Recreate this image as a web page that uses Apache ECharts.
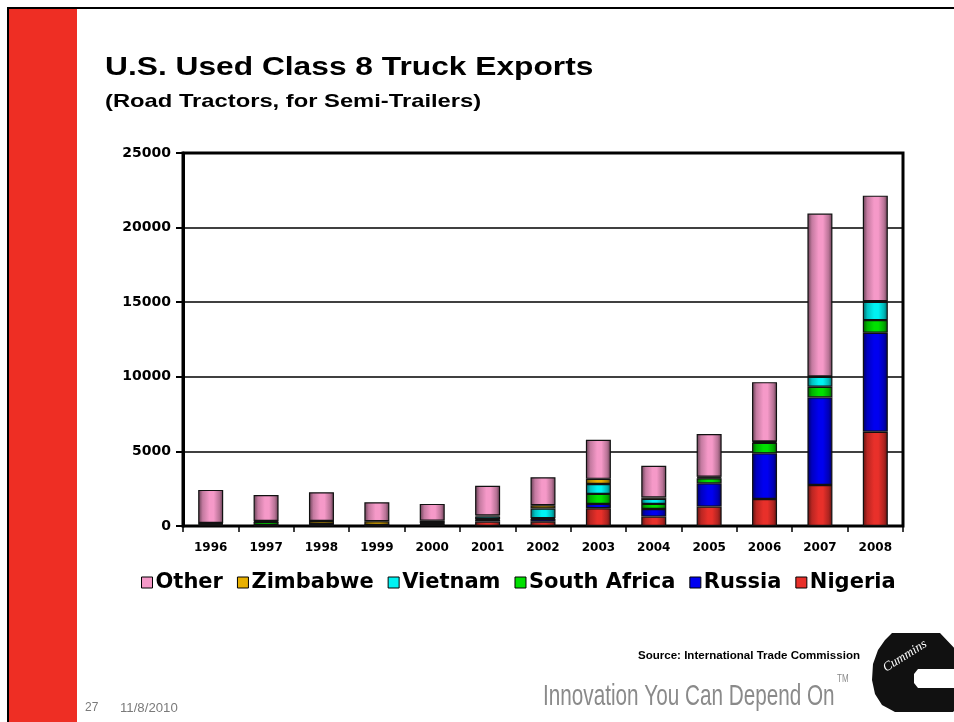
<!DOCTYPE html>
<html>
<head>
<meta charset="utf-8">
<script src="https://cdn.jsdelivr.net/npm/echarts@6/dist/echarts.min.js"></script>
<style>
html,body{margin:0;padding:0;background:#fff;}
#chart{width:954px;height:722px;}
</style>
</head>
<body>
<div id="chart"></div>
<script>
// ---- data ----
var categories = ['1996','1997','1998','1999','2000','2001','2002','2003','2004','2005','2006','2007','2008'];
var nigeria     = [60, 40, 60, 30, 100, 290, 290, 1190, 630, 1300, 1810, 2750, 6320];
var russia      = [40, 20, 20, 10, 30, 130, 180, 290, 510, 1560, 3060, 5870, 6630];
var southAfrica = [40, 200, 40, 20, 30, 40, 50, 670, 340, 340, 710, 710, 850];
var vietnam     = [20, 20, 20, 10, 40, 180, 650, 670, 340, 60, 60, 670, 1230];
var zimbabwe    = [40, 60, 200, 250, 150, 60, 220, 340, 100, 40, 30, 30, 40];
var other       = [2220, 1740, 1920, 1270, 1130, 1990, 1880, 2620, 2110, 2860, 3970, 10910, 7070];
var legendOrder = ['Other','Zimbabwe','Vietnam','South Africa','Russia','Nigeria'];
var yTicks = [0, 5000, 10000, 15000, 20000, 25000];

var colors = {
  'Nigeria': '#E8302A',
  'Russia': '#0000F0',
  'South Africa': '#00E000',
  'Vietnam': '#00F2F2',
  'Zimbabwe': '#E8B000',
  'Other': '#F599C8'
};

function shade(hex, f) {
  var r = parseInt(hex.substr(1,2),16), g = parseInt(hex.substr(3,2),16), b = parseInt(hex.substr(5,2),16);
  function c(v){ v = Math.round(v*f); return Math.max(0, Math.min(255, v)); }
  return 'rgb(' + c(r) + ',' + c(g) + ',' + c(b) + ')';
}
function grad(hex) {
  return new echarts.graphic.LinearGradient(0, 0, 1, 0, [
    {offset: 0, color: shade(hex, 0.4)},
    {offset: 0.18, color: shade(hex, 0.8)},
    {offset: 0.45, color: hex},
    {offset: 0.62, color: hex},
    {offset: 0.85, color: shade(hex, 0.75)},
    {offset: 1, color: shade(hex, 0.4)}
  ]);
}

var seriesData = [
  ['Nigeria', nigeria],
  ['Russia', russia],
  ['South Africa', southAfrica],
  ['Vietnam', vietnam],
  ['Zimbabwe', zimbabwe],
  ['Other', other]
];

var series = seriesData.map(function (s) {
  return {
    name: s[0],
    type: 'bar',
    stack: 'total',
    barWidth: 25,
    data: s[1],
    itemStyle: { color: grad(colors[s[0]]), borderColor: '#111', borderWidth: 1.2 },
    emphasis: { disabled: true }
  };
});

var chart = echarts.init(document.getElementById('chart'), null, {renderer: 'canvas'});

var option = {
  animation: false,
  backgroundColor: '#fff',
  grid: {
    left: 183, right: 51, top: 153, bottom: 196,
    show: true, borderColor: '#000', borderWidth: 3, backgroundColor: 'transparent'
  },
  legend: {
    data: legendOrder.map(function (n) {
      return { name: n, itemStyle: { color: colors[n], borderColor: '#000', borderWidth: 1 } };
    }),
    left: 136, top: 567,
    itemWidth: 11, itemHeight: 11, itemGap: 14,
    icon: 'rect',
    textStyle: { fontFamily: 'DejaVu Sans', fontWeight: 'bold', fontSize: 21, color: '#000', padding: [0,0,0,-2] },
    selectedMode: false
  },
  xAxis: {
    type: 'category',
    data: categories,
    axisLine: { lineStyle: { color: '#000', width: 2 } },
    axisTick: { show: true, alignWithLabel: false, length: 6, lineStyle: { color: '#000', width: 1.5 } },
    axisLabel: { fontFamily: 'DejaVu Sans', fontWeight: 'bold', fontSize: 12, color: '#000', margin: 16 }
  },
  yAxis: {
    type: 'value',
    min: yTicks[0], max: yTicks[yTicks.length - 1], interval: 5000,
    axisLine: { show: true, lineStyle: { color: '#000', width: 3 } },
    axisTick: { show: true, length: 7, lineStyle: { color: '#000', width: 2 } },
    splitLine: { show: true, lineStyle: { color: '#000', width: 1.5 } },
    axisLabel: { fontFamily: 'DejaVu Sans', fontWeight: 'bold', fontSize: 14, color: '#000', margin: 12,
      formatter: function (v) { return String(v); } }
  },
  series: series,
  graphic: [
    { type: 'rect', shape: { x: 9, y: 9, width: 68, height: 713 }, style: { fill: '#EE2E24' }, silent: true },
    { type: 'rect', shape: { x: 7, y: 7, width: 947, height: 2 }, style: { fill: '#000' }, silent: true },
    { type: 'rect', shape: { x: 7, y: 7, width: 2, height: 715 }, style: { fill: '#000' }, silent: true },
    { type: 'text', x: 105, y: 68, scaleX: 1.22,
      style: { text: 'U.S. Used Class 8 Truck Exports', fontFamily: 'Liberation Sans', fontWeight: 'bold', fontSize: 26, fill: '#000', textAlign: 'left', textVerticalAlign: 'middle', verticalAlign: 'middle' } },
    { type: 'text', x: 105, y: 102, scaleX: 1.25,
      style: { text: '(Road Tractors, for Semi-Trailers)', fontFamily: 'Liberation Sans', fontWeight: 'bold', fontSize: 19, fill: '#000', textAlign: 'left', textVerticalAlign: 'middle', verticalAlign: 'middle' } },
    { type: 'text', x: 860, y: 656, scaleX: 1.05,
      style: { text: 'Source: International Trade Commission', fontFamily: 'Liberation Sans', fontWeight: 'bold', fontSize: 11, fill: '#000', textAlign: 'right', textVerticalAlign: 'middle', verticalAlign: 'middle' } },
    { type: 'text', x: 85, y: 708,
      style: { text: '27', fontFamily: 'Liberation Sans', fontSize: 12, fill: '#7a7a7a', textAlign: 'left', textVerticalAlign: 'middle', verticalAlign: 'middle' } },
    { type: 'text', x: 120, y: 709, scaleX: 1.1,
      style: { text: '11/8/2010', fontFamily: 'Liberation Sans', fontSize: 12, fill: '#7a7a7a', textAlign: 'left', textVerticalAlign: 'middle', verticalAlign: 'middle' } },
    { type: 'text', x: 543, y: 697, scaleX: 0.69,
      style: { text: 'Innovation You Can Depend On', fontFamily: 'Liberation Sans', fontSize: 30, fill: '#8a8a8a', textAlign: 'left', textVerticalAlign: 'middle', verticalAlign: 'middle' } },
    { type: 'text', x: 837, y: 679, scaleX: 0.8,
      style: { text: 'TM', fontFamily: 'Liberation Sans', fontSize: 10, fill: '#8a8a8a', textAlign: 'left', textVerticalAlign: 'middle', verticalAlign: 'middle' } },
    { type: 'polygon', silent: true,
      shape: { points: [[892,633],[940,633],[958,652],[958,669],[918,669],[914,674],[914,683],[918,688],[958,688],[958,707],[953,712],[895,712],[882,705],[875,694],[872,680],[873,664],[878,650],[885,640]] },
      style: { fill: '#111' } },
    { type: 'text', x: 905, y: 656, rotation: 0.56,
      style: { text: 'Cummins', fontFamily: 'Liberation Serif', fontStyle: 'italic', fontSize: 13, fill: '#fff', textAlign: 'center', textVerticalAlign: 'middle', verticalAlign: 'middle' } }
  ]
};
chart.setOption(option);
</script>
</body>
</html>
